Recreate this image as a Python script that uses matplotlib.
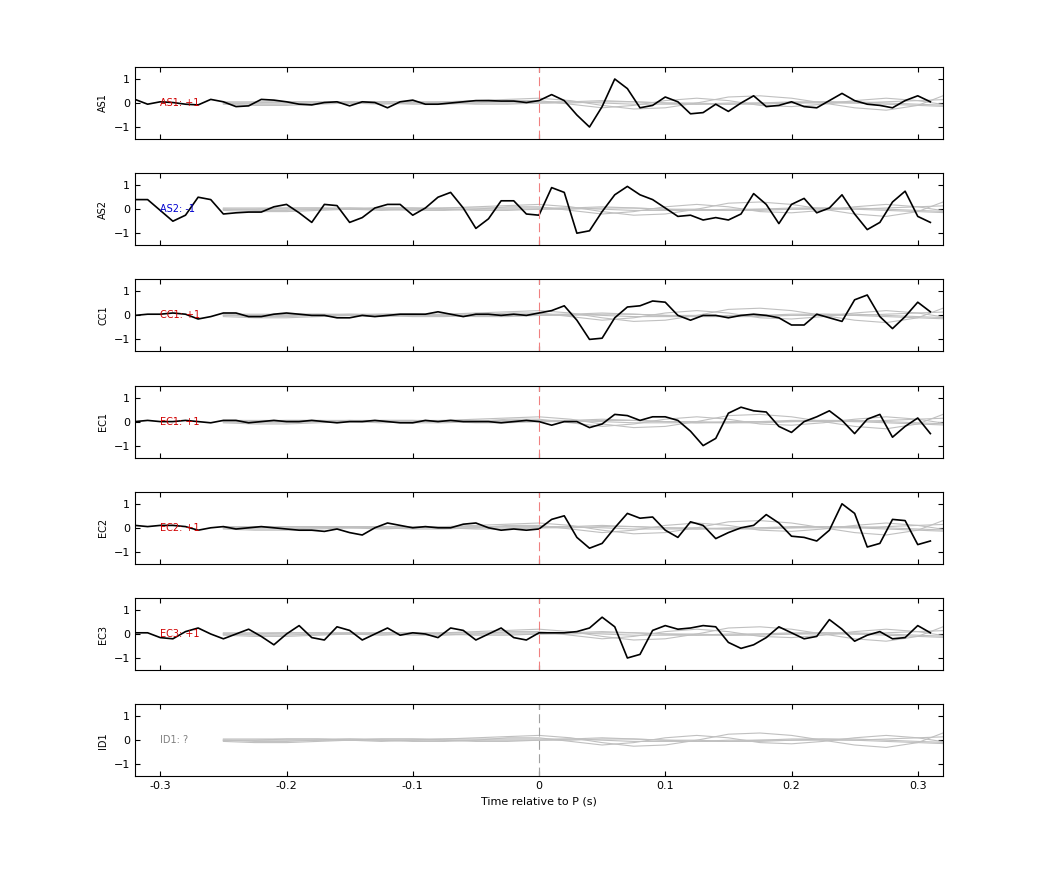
import matplotlib
matplotlib.use('Agg')
import matplotlib.pyplot as plt
import numpy as np

t = np.round(np.arange(-0.32, 0.315, 0.01), 2)
tg = np.round(np.arange(-0.25, 0.33, 0.025), 3)

stations = ["AS1", "AS2", "CC1", "EC1", "EC2", "EC3", "ID1"]
polarity = ["+1", "-1", "+1", "+1", "+1", "+1", "?"]

AS1 = [0.15, -0.05, 0.05, 0.02, -0.05, -0.08, 0.15, 0.05, -0.15, -0.12, 0.15, 0.12, 0.05, -0.05, -0.08, 0.02,
       0.05, -0.12, 0.05, 0.02, -0.2, 0.05, 0.12, -0.05, -0.05, 0.0, 0.05, 0.1, 0.1, 0.08, 0.08, 0.02,
       0.1, 0.35, 0.1, -0.5, -1.0, -0.15, 1.0, 0.6, -0.2, -0.1, 0.25, 0.05, -0.45, -0.4, -0.05, -0.35,
       0.0, 0.3, -0.15, -0.1, 0.05, -0.15, -0.2, 0.1, 0.4, 0.1, -0.05, -0.1, -0.2, 0.1, 0.3, 0.05]
AS2 = [0.4, 0.4, -0.05, -0.5, -0.25, 0.5, 0.4, -0.2, -0.15, -0.12, -0.12, 0.1, 0.2, -0.15, -0.55, 0.2,
       0.15, -0.55, -0.35, 0.05, 0.2, 0.2, -0.25, 0.05, 0.5, 0.7, 0.05, -0.8, -0.4, 0.35, 0.35, -0.2,
       -0.25, 0.9, 0.7, -1.0, -0.9, -0.1, 0.6, 0.95, 0.6, 0.4, 0.05, -0.3, -0.25, -0.45, -0.35, -0.45,
       -0.2, 0.65, 0.2, -0.6, 0.2, 0.45, -0.15, 0.05, 0.6, -0.2, -0.85, -0.55, 0.3, 0.75, -0.3, -0.55]
CC1 = [0.0, 0.05, 0.05, 0.1, 0.05, -0.15, -0.05, 0.1, 0.1, -0.05, -0.05, 0.05, 0.1, 0.05, 0.0, 0.0,
       -0.1, -0.1, 0.0, -0.05, 0.0, 0.05, 0.05, 0.05, 0.15, 0.05, -0.05, 0.05, 0.05, 0.0, 0.05, 0.0,
       0.1, 0.2, 0.4, -0.2, -1.0, -0.95, -0.1, 0.35, 0.4, 0.6, 0.55, 0.0, -0.2, 0.0, 0.0, -0.1,
       0.0, 0.05, 0.0, -0.1, -0.4, -0.4, 0.05, -0.1, -0.25, 0.65, 0.85, -0.05, -0.55, -0.05, 0.55, 0.15]
EC1 = [0.0, 0.05, 0.0, 0.0, 0.05, 0.0, -0.05, 0.05, 0.05, -0.05, 0.0, 0.05, 0.0, 0.0, 0.05, 0.0,
       -0.05, 0.0, 0.0, 0.05, 0.0, -0.05, -0.05, 0.05, 0.0, 0.05, 0.0, 0.0, 0.0, -0.05, 0.0, 0.05,
       0.0, -0.15, 0.0, 0.0, -0.25, -0.1, 0.3, 0.25, 0.05, 0.2, 0.2, 0.05, -0.4, -1.0, -0.7, 0.35,
       0.6, 0.45, 0.4, -0.2, -0.45, 0.0, 0.2, 0.45, 0.05, -0.5, 0.1, 0.3, -0.65, -0.2, 0.15, -0.5]
EC2 = [0.1, 0.05, 0.1, 0.1, 0.05, -0.1, 0.0, 0.05, -0.05, 0.0, 0.05, 0.0, -0.05, -0.1, -0.1, -0.15,
       -0.05, -0.2, -0.3, 0.0, 0.2, 0.1, 0.0, 0.05, 0.0, 0.0, 0.15, 0.2, 0.0, -0.1, -0.05, -0.1,
       -0.05, 0.35, 0.5, -0.4, -0.85, -0.65, 0.0, 0.6, 0.4, 0.45, -0.1, -0.4, 0.25, 0.1, -0.45, -0.2,
       0.0, 0.1, 0.55, 0.2, -0.35, -0.4, -0.55, -0.1, 1.0, 0.6, -0.8, -0.65, 0.35, 0.3, -0.7, -0.55]
EC3 = [0.05, 0.05, -0.15, -0.2, 0.1, 0.25, 0.0, -0.2, 0.0, 0.2, -0.1, -0.45, 0.0, 0.35, -0.15, -0.25,
       0.3, 0.15, -0.25, 0.0, 0.25, -0.05, 0.05, 0.0, -0.15, 0.25, 0.15, -0.25, 0.0, 0.25, -0.15, -0.25,
       0.05, 0.05, 0.05, 0.1, 0.25, 0.7, 0.3, -1.0, -0.85, 0.15, 0.35, 0.2, 0.25, 0.35, 0.3, -0.35,
       -0.6, -0.45, -0.15, 0.3, 0.05, -0.2, -0.1, 0.6, 0.2, -0.3, -0.05, 0.1, -0.2, -0.15, 0.35, 0.05]
black = [AS1, AS2, CC1, EC1, EC2, EC3, None]

# grey synthetic traces (sampled every 0.025 s from -0.25 s)
GA = [0, 0, 0.05, 0.05, 0, -0.05, 0, 0.05, 0.1, 0.15, 0.2, 0.1, -0.1, -0.25, -0.2, 0.0, 0.25, 0.3, 0.2, 0.0, -0.2, -0.3, -0.1, 0.4]
GB = [0, -0.05, -0.05, 0, 0.05, 0, -0.05, -0.05, 0, 0.1, 0.1, -0.05, -0.2, -0.1, 0.1, 0.2, 0.1, -0.1, -0.15, -0.05, 0.1, 0.2, 0.1, -0.1]
GC = [0, 0, 0, 0, 0, 0, 0, 0, 0, 0, 0, 0, 0.05, 0.05, 0, 0, -0.05, -0.05, 0, 0.05, 0.05, 0, -0.05, -0.1]
GD = [0.05, 0.05, 0.05, 0.05, 0.05, 0.05, 0.05, 0.05, 0.05, 0.05, 0.05, 0.05, 0.0, -0.05, -0.05, -0.05, 0, 0, 0, 0, 0, 0.05, 0.1, 0.15]
GE = [-0.05, -0.1, -0.1, -0.05, 0, 0.05, 0.05, 0, -0.05, -0.05, 0, 0.05, 0.1, 0.05, 0, -0.05, -0.05, 0, 0.05, 0.05, 0, -0.05, -0.1, -0.15]
grey = [GA, GB, GC, GD, GE]

label_colors = ["#d00000", "#0000d0", "#d00000", "#d00000", "#d00000", "#d00000", "#808080"]

fig = plt.figure(figsize=(10.42, 8.75), dpi=100)
plt.rcParams['font.size'] = 8
for i, name in enumerate(stations):
    top = 67 + 106.2 * i
    ax = fig.add_axes([135 / 1042, 1 - (top + 72) / 875, 808 / 1042, 72 / 875])
    for g in grey:
        ax.plot(tg, g, color="#c0c0c0", lw=0.8)
    if black[i] is not None:
        ax.plot(t, black[i], color="black", lw=1.2)
    vcol = "#f08080" if i < 6 else "#a0a0a0"
    ax.axvline(0, color=vcol, ls=(0, (8, 4)), lw=0.8)
    ax.text(-0.30, 0, name + ": " + polarity[i], color=label_colors[i], fontsize=7, va="center")
    ax.set_xlim(-0.32, 0.32)
    ax.set_ylim(-1.5, 1.5)
    ax.set_yticks([-1, 0, 1])
    ax.set_xticks([-0.3, -0.2, -0.1, 0, 0.1, 0.2, 0.3])
    ax.tick_params(direction="in", top=True, right=True, labelsize=8)
    ax.set_ylabel(name, fontsize=7)
    if i < 6:
        ax.set_xticklabels([])
    else:
        ax.set_xticklabels(["-0.3", "-0.2", "-0.1", "0", "0.1", "0.2", "0.3"])
        ax.set_xlabel("Time relative to P (s)", fontsize=8)

fig.savefig("out.png", dpi=100)
